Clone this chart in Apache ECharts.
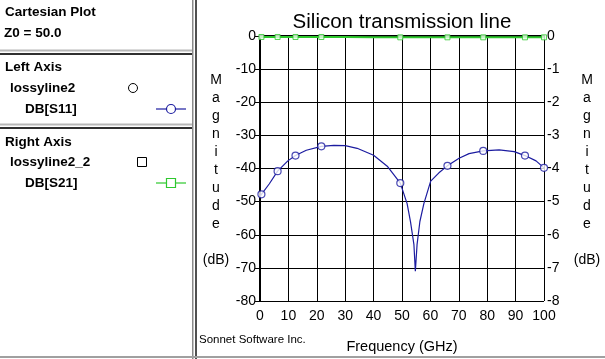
<!DOCTYPE html>
<html><head><meta charset="utf-8">
<script src="https://cdn.jsdelivr.net/npm/echarts@6/dist/echarts.min.js"></script>
<style>html,body{margin:0;padding:0;background:#fff}#c{width:605px;height:359px}</style>
</head><body><div id="c"></div>
<script>
// Frequencies (GHz) and DB[S11] values for the curve
const s11Freq = [0, 0.5, 3.3, 6.2, 9.8, 12.5, 16.3, 21.6, 26, 30, 34.2, 40, 44.8, 49.4, 51.8, 53.0, 54.2, 54.7, 55.3, 56.3, 57.7, 60.1, 63, 66, 70.1, 73.6, 78.6, 84.2, 89.5, 93.3, 97.2, 100];
const s11Db   = [-48.6, -47.8, -44.6, -40.8, -37.7, -36.1, -34.5, -33.3, -33.0, -33.1, -33.9, -36.0, -39.3, -44.4, -50.6, -56.1, -63, -71, -63, -56, -50.6, -43.8, -41.3, -39.2, -36.9, -35.5, -34.7, -34.4, -34.9, -36.1, -37.7, -39.8];
// Marker (sweep) points
const markFreq = [0.5, 6.2, 12.5, 21.6, 49.4, 66, 78.6, 93.3, 100];
const markS11  = [-47.8, -40.8, -36.1, -33.3, -44.4, -39.2, -34.7, -36.1, -39.8];
// DB[S21] (right axis)
const s21Freq = [0, 0.5, 6.2, 12.5, 21.6, 30, 40, 49.4, 54.7, 60, 66, 78.6, 93.3, 100];
const s21Db   = [-0.03, -0.03, -0.03, -0.03, -0.03, -0.03, -0.04, -0.04, -0.04, -0.04, -0.04, -0.04, -0.04, -0.04];
const markS21  = [-0.03, -0.03, -0.03, -0.03, -0.04, -0.04, -0.04, -0.04, -0.04];
// Axis settings
const xTicks = {min: 0, max: 100, interval: 10};
const leftTicks = {min: -80, max: 0, interval: 10};
const rightTicks = {min: -8, max: 0, interval: 1};

const zip = (a, b) => a.map((v, i) => [v, b[i]]);
const F = '"Liberation Sans", Arial, sans-serif';
const BLUE = '#1c1ca0', GREEN = '#2ec82e';

const chart = echarts.init(document.getElementById('c'), null, {renderer: 'canvas'});

function txt(x, y, s, opt) {
  return {type: 'text', x: x, y: y, style: Object.assign({text: s, fill: '#000', font: 'bold 13.5px ' + F, textVerticalAlign: 'middle'}, opt || {})};
}
const magLabel = 'M\na\ng\nn\ni\nt\nu\nd\ne\n\n(dB)';

chart.setOption({
  animation: false,
  backgroundColor: '#fff',
  grid: {left: 260, top: 36, right: 61, bottom: 55, show: false},
  xAxis: [{
    type: 'value', min: xTicks.min, max: xTicks.max, interval: xTicks.interval, position: 'bottom',
    axisLine: {show: true, lineStyle: {color: '#000', width: 1}},
    axisTick: {show: false},
    axisLabel: {color: '#000', fontFamily: F, fontSize: 14, margin: 8},
    splitLine: {show: true, lineStyle: {color: '#000', width: 1}},
    name: 'Frequency (GHz)', nameLocation: 'middle', nameGap: 38,
    nameTextStyle: {color: '#000', fontFamily: F, fontSize: 14.5}
  }, {
    type: 'value', min: xTicks.min, max: xTicks.max, position: 'top',
    axisLine: {show: true, lineStyle: {color: '#000', width: 2}},
    axisTick: {show: false}, axisLabel: {show: false}, splitLine: {show: false}
  }],
  yAxis: [{
    type: 'value', min: leftTicks.min, max: leftTicks.max, interval: leftTicks.interval, position: 'left',
    axisLine: {show: true, lineStyle: {color: '#000', width: 2}},
    axisTick: {show: true, length: 5, lineStyle: {color: '#000'}},
    axisLabel: {color: '#000', fontFamily: F, fontSize: 14, margin: 4},
    splitLine: {show: true, lineStyle: {color: '#000', width: 1}}
  }, {
    type: 'value', min: rightTicks.min, max: rightTicks.max, interval: rightTicks.interval, position: 'right',
    axisLine: {show: true, lineStyle: {color: '#000', width: 1}},
    axisTick: {show: true, length: 5, lineStyle: {color: '#000'}},
    axisLabel: {color: '#000', fontFamily: F, fontSize: 14, margin: 3},
    splitLine: {show: false}
  }],
  series: [
    {type: 'line', name: 'DB[S11]', xAxisIndex: 0, yAxisIndex: 0, data: zip(s11Freq, s11Db), showSymbol: false,
     lineStyle: {color: BLUE, width: 1.2}, smooth: false, z: 3},
    {type: 'scatter', name: 'S11 pts', xAxisIndex: 0, yAxisIndex: 0, data: zip(markFreq, markS11), symbol: 'circle', symbolSize: 7,
     itemStyle: {color: '#fff', borderColor: BLUE, borderWidth: 1.2}, z: 4},
    {type: 'line', name: 'DB[S21]', xAxisIndex: 0, yAxisIndex: 1, data: zip(s21Freq, s21Db), showSymbol: false,
     lineStyle: {color: GREEN, width: 2}, z: 3},
    {type: 'scatter', name: 'S21 pts', xAxisIndex: 0, yAxisIndex: 1, data: zip(markFreq, markS21), symbol: 'rect', symbolSize: 5,
     itemStyle: {color: '#eaffea', borderColor: GREEN, borderWidth: 1}, z: 4}
  ],
  graphic: [
    // panel dividers
    {type: 'rect', shape: {x: 192, y: 0, width: 1.5, height: 359}, style: {fill: '#8a8a8a'}},
    {type: 'rect', shape: {x: 195, y: 0, width: 2, height: 359}, style: {fill: '#505050'}},
    {type: 'rect', shape: {x: 0, y: 49.5, width: 192, height: 2}, style: {fill: '#b8b8b8'}},
    {type: 'rect', shape: {x: 0, y: 53, width: 192, height: 2}, style: {fill: '#303030'}},
    {type: 'rect', shape: {x: 0, y: 123.5, width: 192, height: 2}, style: {fill: '#b8b8b8'}},
    {type: 'rect', shape: {x: 0, y: 127, width: 192, height: 2}, style: {fill: '#303030'}},
    {type: 'rect', shape: {x: 0, y: 356, width: 605, height: 2}, style: {fill: '#a0a0a0'}},
    // left panel text
    txt(5, 12, 'Cartesian Plot'),
    txt(4, 33, 'Z0 = 50.0'),
    txt(5, 67, 'Left Axis'),
    txt(10, 88, 'lossyline2'),
    txt(25, 109, 'DB[S11]'),
    txt(5, 142, 'Right Axis'),
    txt(10, 162, 'lossyline2_2'),
    txt(25, 183, 'DB[S21]'),
    {type: 'circle', shape: {cx: 133, cy: 88, r: 4.5}, style: {fill: '#fff', stroke: '#000', lineWidth: 1}},
    {type: 'rect', shape: {x: 137.5, y: 157.5, width: 9, height: 9}, style: {fill: '#fff', stroke: '#000', lineWidth: 1}},
    {type: 'line', shape: {x1: 156, y1: 109, x2: 186, y2: 109}, style: {stroke: BLUE, lineWidth: 1.2}},
    {type: 'circle', shape: {cx: 171, cy: 109, r: 4.5}, style: {fill: '#fff', stroke: BLUE, lineWidth: 1.2}},
    {type: 'line', shape: {x1: 156, y1: 183, x2: 186, y2: 183}, style: {stroke: GREEN, lineWidth: 1.2}},
    {type: 'rect', shape: {x: 166.5, y: 178.5, width: 9, height: 9}, style: {fill: '#fff', stroke: GREEN, lineWidth: 1.2}},
    // title and axis names
    txt(402, 22, 'Silicon transmission line', {font: '20.5px ' + F, textAlign: 'center'}),
    txt(216, 71, magLabel, {font: '14px ' + F, textAlign: 'center', textVerticalAlign: 'top', lineHeight: 18}),
    txt(587, 71, magLabel, {font: '14px ' + F, textAlign: 'center', textVerticalAlign: 'top', lineHeight: 18}),
    txt(199, 340, 'Sonnet Software Inc.', {font: '11.5px ' + F})
  ]
});
</script></body></html>
